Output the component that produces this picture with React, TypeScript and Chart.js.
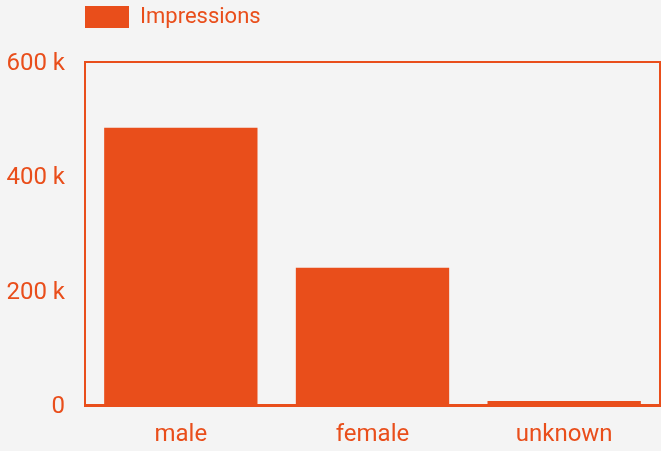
import React, { useEffect, useRef } from "react";
import { Chart, registerables } from "chart.js";

Chart.register(...registerables);

const categories = ["male", "female", "unknown"];
const impressions = [485000, 240000, 7000];
const yTicks = [0, 200000, 400000, 600000];

const ORANGE = "#e94e1b";
const BG = "#f4f4f4";

const frame = {
  id: "frame",
  beforeInit(chart: any) {
    const legend = chart.legend;
    if (legend) {
      const orig = legend.fit.bind(legend);
      legend.fit = function () {
        orig();
        this.height = 56;
      };
    }
  },
  afterDraw(chart: any) {
    const { ctx, chartArea } = chart;
    ctx.save();
    ctx.strokeStyle = ORANGE;
    ctx.lineWidth = 2;
    ctx.strokeRect(chartArea.left, chartArea.top, chartArea.right - chartArea.left, chartArea.bottom - chartArea.top);
    ctx.restore();
  },
};

export default function App() {
  const ref = useRef<HTMLCanvasElement>(null);
  useEffect(() => {
    document.body.style.margin = "0";
    document.body.style.background = BG;
    const chart = new Chart(ref.current!, {
      type: "bar",
      data: {
        labels: categories,
        datasets: [
          {
            label: "Impressions",
            data: impressions,
            backgroundColor: ORANGE,
            borderWidth: 0,
            barPercentage: 0.8,
            categoryPercentage: 1,
          },
        ],
      },
      options: {
        animation: false,
        responsive: false,
        maintainAspectRatio: false,
        layout: { padding: { left: 0, right: 1, top: 6, bottom: 0 } },
        plugins: {
          legend: {
            position: "top",
            align: "start",
            fullSize: false,
            labels: {
              color: ORANGE,
              boxWidth: 44,
              boxHeight: 22,
              padding: 0,
              font: { family: "Roboto", size: 22 },
            },
          },
          tooltip: { enabled: false },
        },
        scales: {
          x: {
            afterFit(scale: any) {
              scale.height = 46;
            },
            grid: { display: false },
            border: { display: true, color: ORANGE, width: 3 },
            ticks: { color: ORANGE, font: { family: "Roboto", size: 24 }, padding: 8 },
          },
          y: {
            min: 0,
            max: 600000,
            afterFit(scale: any) {
              scale.width = 85;
            },
            afterBuildTicks(scale: any) {
              scale.ticks = yTicks.map((v) => ({ value: v }));
            },
            grid: { display: false },
            border: { display: true, color: ORANGE, width: 2 },
            ticks: {
              color: ORANGE,
              font: { family: "Roboto", size: 24 },
              padding: 12,
              labelOffset: 2,
              callback: (v: any) => (v === 0 ? "0" : v / 1000 + " k"),
            },
          },
        },
      },
      plugins: [frame],
    });
    return () => chart.destroy();
  }, []);
  return (
    <div style={{ position: "fixed", left: 0, top: 0, width: 661, height: 451, background: BG }}>
      <canvas ref={ref} width={661} height={451} style={{ display: "block" }} />
    </div>
  );
}
